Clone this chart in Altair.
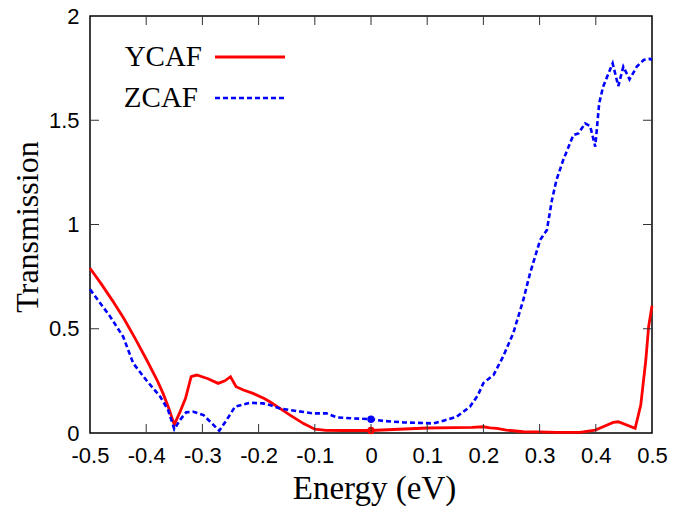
import altair as alt
import pandas as pd

# Transmission spectra for the two configurations
ycaf_energy = [-0.5, -0.48, -0.46, -0.44, -0.42, -0.40, -0.38, -0.37, -0.36, -0.35,
               -0.34, -0.33, -0.32, -0.31, -0.29, -0.272, -0.26, -0.25, -0.24, -0.227,
               -0.21, -0.19, -0.18, -0.162, -0.144, -0.12, -0.10, -0.08, -0.05, 0.0,
               0.05, 0.10, 0.15, 0.18, 0.20, 0.212, 0.224, 0.241, 0.271, 0.30,
               0.33, 0.372, 0.399, 0.413, 0.431, 0.44, 0.47, 0.48, 0.489, 0.494, 0.5]
ycaf_trans = [0.79, 0.715, 0.635, 0.55, 0.455, 0.355, 0.25, 0.19, 0.12, 0.04,
              0.10, 0.166, 0.27, 0.278, 0.26, 0.238, 0.25, 0.27, 0.222, 0.206,
              0.19, 0.165, 0.15, 0.118, 0.086, 0.045, 0.018, 0.013, 0.012, 0.012,
              0.018, 0.024, 0.026, 0.027, 0.03, 0.025, 0.022, 0.014, 0.006, 0.005,
              0.003, 0.003, 0.014, 0.03, 0.051, 0.054, 0.022, 0.134, 0.35, 0.51, 0.61]

zcaf_energy = [-0.5, -0.464, -0.441, -0.423, -0.40, -0.375, -0.361, -0.35, -0.34, -0.329,
               -0.316, -0.298, -0.283, -0.270, -0.257, -0.242, -0.215, -0.192, -0.18, -0.162,
               -0.144, -0.103, -0.079, -0.061, -0.031, 0.0, 0.022, 0.057, 0.111, 0.129,
               0.152, 0.176, 0.19, 0.2, 0.218, 0.235, 0.253, 0.271, 0.283, 0.301,
               0.313, 0.322, 0.330, 0.342, 0.36, 0.369, 0.381, 0.39, 0.399, 0.406,
               0.413, 0.43, 0.44, 0.449, 0.46, 0.473, 0.485, 0.496, 0.5]
zcaf_trans = [0.689, 0.558, 0.462, 0.334, 0.254, 0.174, 0.11, 0.018, 0.062, 0.099,
              0.102, 0.086, 0.046, 0.011, 0.062, 0.126, 0.145, 0.142, 0.134, 0.118,
              0.11, 0.094, 0.094, 0.075, 0.07, 0.066, 0.058, 0.051, 0.046, 0.059,
              0.077, 0.126, 0.18, 0.24, 0.278, 0.366, 0.478, 0.638, 0.766, 0.926,
              0.974, 1.118, 1.213, 1.309, 1.429, 1.437, 1.485, 1.472, 1.373, 1.581,
              1.661, 1.773, 1.664, 1.757, 1.696, 1.757, 1.789, 1.794, 1.79]

# Values at the Fermi level (E = 0)
fermi_energy = [0.0, 0.0]
fermi_trans = [0.012, 0.066]
fermi_series = ["YCAF", "ZCAF"]

x_ticks = [-0.5, -0.4, -0.3, -0.2, -0.1, 0.0, 0.1, 0.2, 0.3, 0.4, 0.5]
y_ticks = [0.0, 0.5, 1.0, 1.5, 2.0]

W, H = 562, 417
RED, BLUE = "#ff0000", "#0000ff"
SANS, SERIF = "Liberation Sans", "Liberation Serif"

ycaf = pd.DataFrame({"Energy": ycaf_energy, "Transmission": ycaf_trans})
zcaf = pd.DataFrame({"Energy": zcaf_energy, "Transmission": zcaf_trans})
fermi = pd.DataFrame({"Energy": fermi_energy, "Transmission": fermi_trans,
                      "series": fermi_series})
xt = pd.DataFrame({"Energy": x_ticks[1:-1]})
yt = pd.DataFrame({"Transmission": y_ticks[1:-1]})

xscale = alt.Scale(domain=[-0.5, 0.5], nice=False, zero=False)
yscale = alt.Scale(domain=[0, 2], nice=False, zero=False)

x_axis = alt.Axis(values=x_ticks, tickSize=0, domain=False, grid=False,
                  labelExpr="(datum.value < -0.001 ? '-' : '') + format(abs(datum.value), '.1~f')",
                  labelFont=SANS, labelFontSize=22, labelColor="black", labelPadding=12,
                  labelFlush=False, labelBound=False, labelOverlap=False,
                  title="Energy (eV)", titleFont=SERIF, titleFontSize=33,
                  titleFontWeight="normal", titleColor="black",
                  titleX=284, titleY=65, titleBaseline="alphabetic")
y_axis = alt.Axis(values=y_ticks, tickSize=0, domain=False, grid=False,
                  labelExpr="format(datum.value, '.1~f')",
                  labelFont=SANS, labelFontSize=22, labelColor="black", labelPadding=11,
                  labelFlush=False, labelBound=False, labelOverlap=False,
                  title="Transmission", titleFont=SERIF, titleFontSize=32,
                  titleFontWeight="normal", titleColor="black",
                  titleX=-53, titleY=H / 2 + 2, titleAngle=-90, titleBaseline="alphabetic")

X = alt.X("Energy:Q", scale=xscale, axis=x_axis)
Y = alt.Y("Transmission:Q", scale=yscale, axis=y_axis)

red_line = alt.Chart(ycaf).mark_line(color=RED, strokeWidth=2.8).encode(x=X, y=Y)
blue_line = alt.Chart(zcaf).mark_line(color=BLUE, strokeWidth=2.6, strokeDash=[5, 3]).encode(
    x=X, y=Y)
dots = alt.Chart(fermi).mark_point(filled=True, size=55, opacity=1).encode(
    x=X, y=Y,
    color=alt.Color("series:N", scale=alt.Scale(domain=["YCAF", "ZCAF"], range=[RED, BLUE]),
                    legend=None),
)

# inward ticks on all four sides
tick_style = dict(color="#333333", strokeWidth=1)
bottom_ticks = alt.Chart(xt).mark_rule(**tick_style).encode(
    x=X, y=alt.value(H), y2=alt.value(H - 9))
top_ticks = alt.Chart(xt).mark_rule(**tick_style).encode(
    x=X, y=alt.value(0), y2=alt.value(9))
left_ticks = alt.Chart(yt).mark_rule(**tick_style).encode(
    y=Y, x=alt.value(0), x2=alt.value(9))
right_ticks = alt.Chart(yt).mark_rule(**tick_style).encode(
    y=Y, x=alt.value(W), x2=alt.value(W - 9))

# key in the upper-left corner: label, then line sample
key_font = dict(font=SERIF, fontSize=29, align="right", baseline="alphabetic", color="black")
key_y_label = alt.Chart().mark_text(text="YCAF", **key_font).encode(
    x=alt.value(112), y=alt.value(50))
key_z_label = alt.Chart().mark_text(text="ZCAF", **key_font).encode(
    x=alt.value(108), y=alt.value(91))
key_y_line = alt.Chart().mark_rule(color=RED, strokeWidth=2.8).encode(
    x=alt.value(125), x2=alt.value(195), y=alt.value(41))
key_z_line = alt.Chart().mark_rule(color=BLUE, strokeWidth=2.6, strokeDash=[5, 3]).encode(
    x=alt.value(125), x2=alt.value(195), y=alt.value(82))

chart = alt.layer(
    red_line, blue_line, dots,
    bottom_ticks, top_ticks, left_ticks, right_ticks,
    key_y_label, key_z_label, key_y_line, key_z_line,
).properties(
    width=W, height=H,
    autosize=alt.AutoSizeParams(type="none"),
    padding={"left": 90, "top": 16, "right": 33, "bottom": 80},
    background="white",
).configure_view(stroke="black", strokeWidth=1.5)

chart.save("out.html", embed_options={"renderer": "svg", "actions": False})
